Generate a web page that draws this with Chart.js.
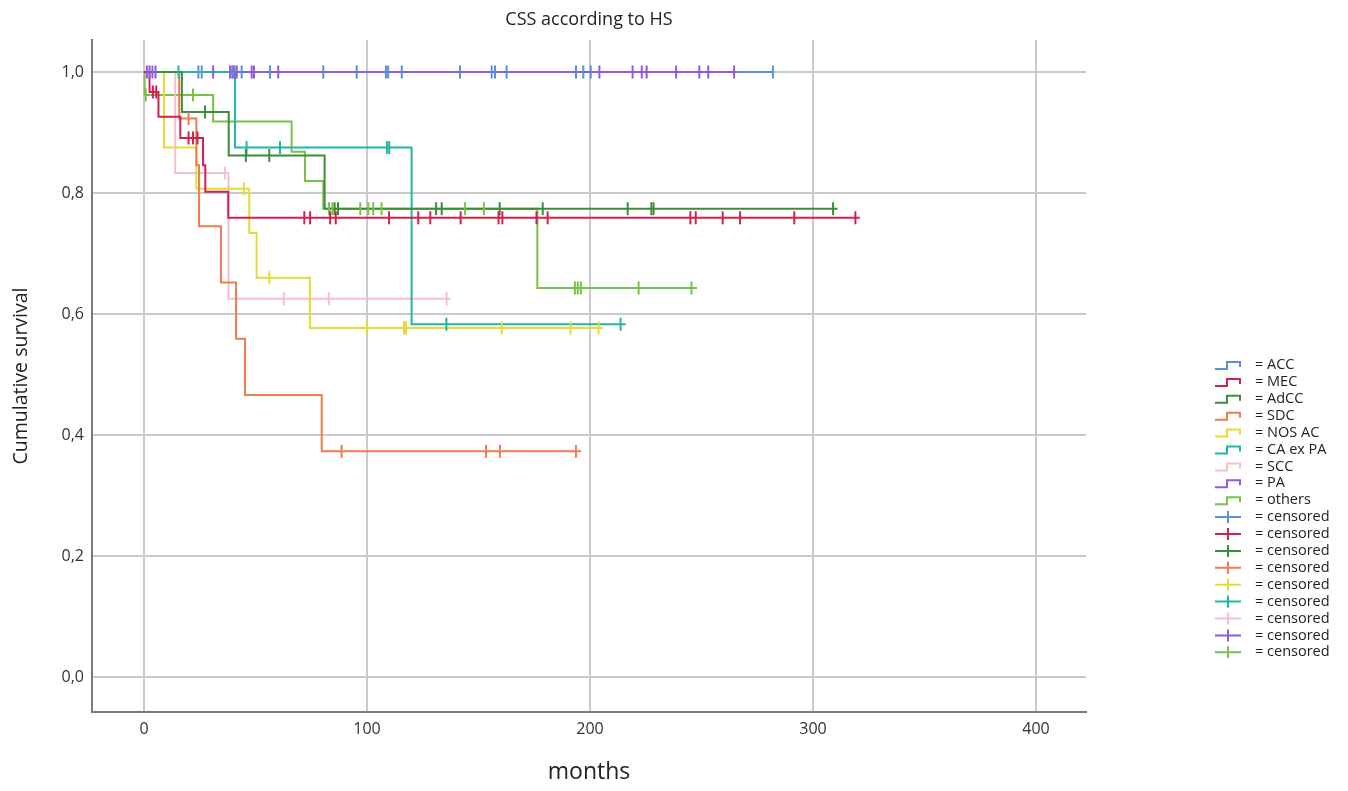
<!DOCTYPE html>
<html>
<head>
<meta charset="utf-8">
<title>CSS according to HS</title>
<script src="https://cdn.jsdelivr.net/npm/chart.js@4.4.0/dist/chart.umd.min.js"></script>
<style>
  body { margin: 0; background: #fff; }
  #wrap { width: 1348px; height: 791px; }
</style>
</head>
<body>
<div id="wrap"><canvas id="km-chart"></canvas></div>
<script>
// histological subtypes, in legend order
const groups = ['ACC', 'MEC', 'AdCC', 'SDC', 'NOS AC', 'CA ex PA', 'SCC', 'PA', 'others'];

// step times (months) and the survival reached at each step
const accTimes = [0];
const accSurv = [1];
const accEnd = 282;
const accCens = [24.4, 25.9, 40, 43.8, 56.5, 80.4, 95.4, 108.5, 109.5, 115.6, 141.7, 155.9, 157.4, 162.6, 193.7, 197, 200.3, 282];

const mecTimes = [0, 2.5, 6.5, 16.3, 26.5, 27.5, 37.8];
const mecSurv = [1, 0.967, 0.926, 0.891, 0.846, 0.802, 0.759];
const mecEnd = 321;
const mecCens = [4, 5.5, 20, 22, 24, 71.9, 74.5, 83.5, 86, 109.9, 123, 128.4, 142, 159, 160.7, 176, 181, 245, 247.4, 259.5, 267.3, 291.6, 319];

const adccTimes = [0, 17, 38, 81];
const adccSurv = [1, 0.934, 0.862, 0.774];
const adccEnd = 311;
const adccCens = [27.4, 45.7, 56.2, 85.5, 87, 131, 133.5, 159.5, 178.8, 216.9, 227.5, 228.5, 309];

const sdcTimes = [0, 15.8, 23.5, 24.7, 34.5, 41.3, 45.3, 79.7];
const sdcSurv = [1, 0.923, 0.846, 0.745, 0.652, 0.559, 0.466, 0.373];
const sdcEnd = 196;
const sdcCens = [20, 88.6, 153.4, 159.6, 193.7];

const nosTimes = [0, 9, 23.5, 47.2, 50.5, 74.4];
const nosSurv = [1, 0.875, 0.807, 0.734, 0.66, 0.577];
const nosEnd = 205.7;
const nosCens = [44.8, 56.2, 99.9, 116.6, 117.5, 160.4, 191.3, 203.8];

const caTimes = [0, 40.8, 120];
const caSurv = [1, 0.875, 0.583];
const caEnd = 216;
const caCens = [15.5, 46, 61, 109, 110, 135.6, 213.7];

const sccTimes = [0, 14, 37.9];
const sccSurv = [1, 0.833, 0.625];
const sccEnd = 137.5;
const sccCens = [36.3, 62.7, 82.9, 135.7];

const paTimes = [0];
const paSurv = [1];
const paEnd = 266;
const paCens = [1.3, 2.5, 3.8, 5.2, 31, 38.6, 39.6, 40.6, 41.6, 48.3, 49.3, 60.2, 204.2, 219.1, 223.2, 225.4, 238.6, 249, 253, 264.6];

const othTimes = [0, 0.3, 31, 66.2, 72.2, 80.4, 176.4];
const othSurv = [1, 0.962, 0.918, 0.868, 0.82, 0.774, 0.643];
const othEnd = 248;
const othCens = [0.8, 22, 83, 84.5, 97, 100.6, 102.8, 106.5, 144, 152.4, 193.2, 194.5, 195.9, 221.8, 245.5];

const xTicks = [0, 100, 200, 300, 400];
const yTicks = [0, 0.2, 0.4, 0.6, 0.8, 1.0];

// colours per subtype (same order as groups)
const colors = ['#5b8fd8', '#d2204f', '#3c8c3c', '#f07b4f', '#e3dc36', '#22b5a8', '#f5bfd0', '#8f5be0', '#79c14a'];

const curves = [
    [accTimes, accSurv, accEnd, accCens],
    [mecTimes, mecSurv, mecEnd, mecCens],
    [adccTimes, adccSurv, adccEnd, adccCens],
    [sdcTimes, sdcSurv, sdcEnd, sdcCens],
    [nosTimes, nosSurv, nosEnd, nosCens],
    [caTimes, caSurv, caEnd, caCens],
    [sccTimes, sccSurv, sccEnd, sccCens],
    [paTimes, paSurv, paEnd, paCens],
    [othTimes, othSurv, othEnd, othCens]
];

// survival level of a step curve at time t
function survAt(times, surv, t) {
    let s = surv[0];
    times.forEach((ti, i) => {
        if (ti <= t) s = surv[i];
    });
    return s;
}

const FONT = '"Open Sans", "Noto Sans", sans-serif';

// step lines first, then the censored ticks (so the legend reads like the original)
const lineSets = curves.map((c, i) => {
    const [times, surv, end] = c;
    const pts = times.map((t, k) => ({ x: t, y: surv[k] }));
    pts.push({ x: end, y: surv[surv.length - 1] });
    return {
        type: 'line',
        label: '= ' + groups[i],
        data: pts,
        stepped: true,
        borderColor: colors[i],
        backgroundColor: colors[i],
        borderWidth: 2,
        pointRadius: 0,
        fill: false,
        order: groups[i] === 'ACC' ? 3 : 2
    };
});

const censSets = curves.map((c, i) => {
    const [times, surv, , cens] = c;
    return {
        type: 'scatter',
        label: '= censored',
        censored: true,
        data: cens.map(t => ({ x: t, y: survAt(times, surv, t) })),
        borderColor: colors[i],
        backgroundColor: colors[i],
        pointStyle: 'line',
        pointRotation: 90,
        pointRadius: 6.5,
        pointBorderWidth: 2,
        pointHoverRadius: 6.5,
        order: 1
    };
});

// legend at the right, drawn by hand: step icon for curves, cross for censored
const kmLegend = {
    id: 'kmLegend',
    afterDraw(chart) {
        const ctx = chart.ctx;
        ctx.save();
        chart.data.datasets.forEach((ds, i) => {
            const x = 1215;
            const y = 365 + i * 16.9;
            ctx.strokeStyle = ds.borderColor;
            ctx.lineWidth = 2;
            ctx.beginPath();
            if (ds.censored) {
                ctx.moveTo(x, y);
                ctx.lineTo(x + 26, y);
                ctx.moveTo(x + 13, y - 6);
                ctx.lineTo(x + 13, y + 6);
            } else {
                ctx.moveTo(x, y + 4);
                ctx.lineTo(x + 12, y + 4);
                ctx.lineTo(x + 12, y - 3);
                ctx.lineTo(x + 25, y - 3);
                ctx.lineTo(x + 25, y + 2);
            }
            ctx.stroke();
            ctx.fillStyle = '#222';
            ctx.font = '14.5px ' + FONT;
            ctx.textBaseline = 'middle';
            ctx.fillText(ds.label, 1255, y);
        });
        ctx.restore();
    }
};

new Chart(document.getElementById('km-chart').getContext('2d'), {
    data: { datasets: lineSets.concat(censSets) },
    plugins: [kmLegend],
    options: {
        responsive: true,
        maintainAspectRatio: false,
        devicePixelRatio: 1,
        animation: false,
        layout: { padding: { left: 0, right: 262, top: 0, bottom: 0 } },
        plugins: {
            legend: { display: false },
            tooltip: { enabled: false },
            title: {
                display: true,
                text: 'CSS according to HS',
                fullSize: false,
                color: '#222',
                font: { family: FONT, size: 18, weight: 'normal' },
                padding: { top: 9, bottom: 9.4 }
            }
        },
        scales: {
            x: {
                type: 'linear',
                min: -23.3,
                max: 422.4,
                afterBuildTicks: axis => { axis.ticks = xTicks.map(v => ({ value: v })); },
                afterFit: axis => { axis.height = 79; },
                grid: { color: '#cacaca', lineWidth: 2, drawTicks: false },
                border: { display: true, color: '#7a7a7a', width: 2 },
                ticks: { color: '#333', padding: 8, font: { family: FONT, size: 16 } },
                title: {
                    display: true,
                    text: 'months',
                    color: '#222',
                    font: { family: FONT, size: 23 },
                    padding: { top: 0, bottom: 5 }
                }
            },
            y: {
                type: 'linear',
                min: -0.0579,
                max: 1.0529,
                afterBuildTicks: axis => { axis.ticks = yTicks.map(v => ({ value: v })); },
                afterFit: axis => { axis.width = 92; },
                grid: { color: '#cacaca', lineWidth: 2, drawTicks: false },
                border: { display: true, color: '#7a7a7a', width: 2 },
                ticks: {
                    color: '#333',
                    padding: 8,
                    font: { family: FONT, size: 16 },
                    callback: v => v.toFixed(1).replace('.', ',')
                },
                title: {
                    display: true,
                    text: 'Cumulative survival',
                    color: '#222',
                    font: { family: FONT, size: 19.5 },
                    padding: { top: 10, bottom: 0 }
                }
            }
        }
    }
});
</script>
</body>
</html>
